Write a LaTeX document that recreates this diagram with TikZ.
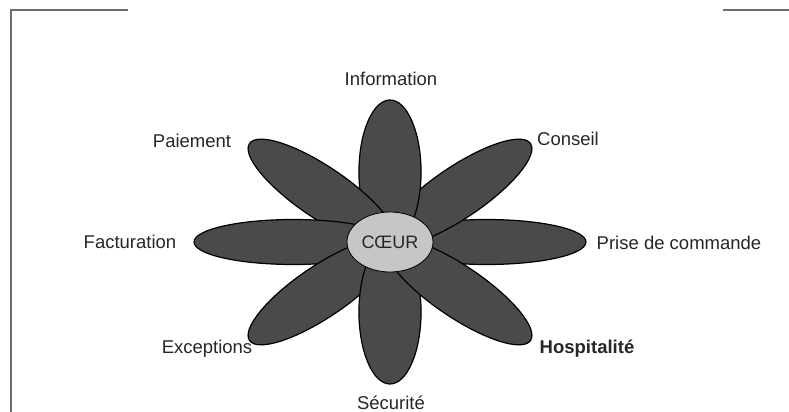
\documentclass[tikz,border=0pt]{standalone}
\usepackage{fontspec}
\setmainfont{Liberation Sans}
\usepackage{tikz}
\usetikzlibrary{shapes.geometric}
\definecolor{petalgray}{HTML}{4A4A4A}
\definecolor{coeurgray}{HTML}{C6C6C6}
\definecolor{cadregray}{HTML}{6E6E6E}
\tikzset{
    petal/.style={draw=black, fill=petalgray, line width=0.6pt},
    coeur/.style={draw=black, fill=coeurgray, ellipse, minimum width=43pt, minimum height=30pt, inner sep=0pt, text=black!85, font=\fontsize{9}{11}\selectfont},
    petallabel/.style={text=black!85, inner sep=0pt, text height=0.72em, text depth=0pt, font=\fontsize{9.25}{11}\selectfont},
    cadre/.style={cadregray, line width=0.7pt}
}
\begin{document}
\begin{tikzpicture}[x=0.5pt, y=-0.5pt]
                    \useasboundingbox (0,0) rectangle (789,412);
                    \draw[cadre] (128,10) -- (11,10) -- (11,412);
                    \draw[cadre] (723,10) -- (789,10);

                    \begin{scope}[shift={(390,242)}, xscale=1.38]
                        \foreach \ang in {0,45,...,315}
                            \draw[petal, rotate=\ang] (70,0) ellipse (72 and 22.5);
                    \end{scope}
                    \node[coeur] (coeur) at (390,242) {CŒUR};

                    \node[petallabel] (info) at (391,78) {Information};
                    \node[petallabel] (paiement) at (192,140) {Paiement};
                    \node[petallabel] (conseil) at (568,138) {Conseil};
                    \node[petallabel] (factu) at (130,241) {Facturation};
                    \node[petallabel] (prise) at (679,242) {Prise de commande};
                    \node[petallabel] (except) at (207,346) {Exceptions};
                    \node[petallabel, font=\fontsize{9.25}{11}\selectfont\bfseries] (hosp) at (587,346) {Hospitalité};
                    \node[petallabel] (secu) at (391,402) {Sécurité};
                \end{tikzpicture}
\end{document}
